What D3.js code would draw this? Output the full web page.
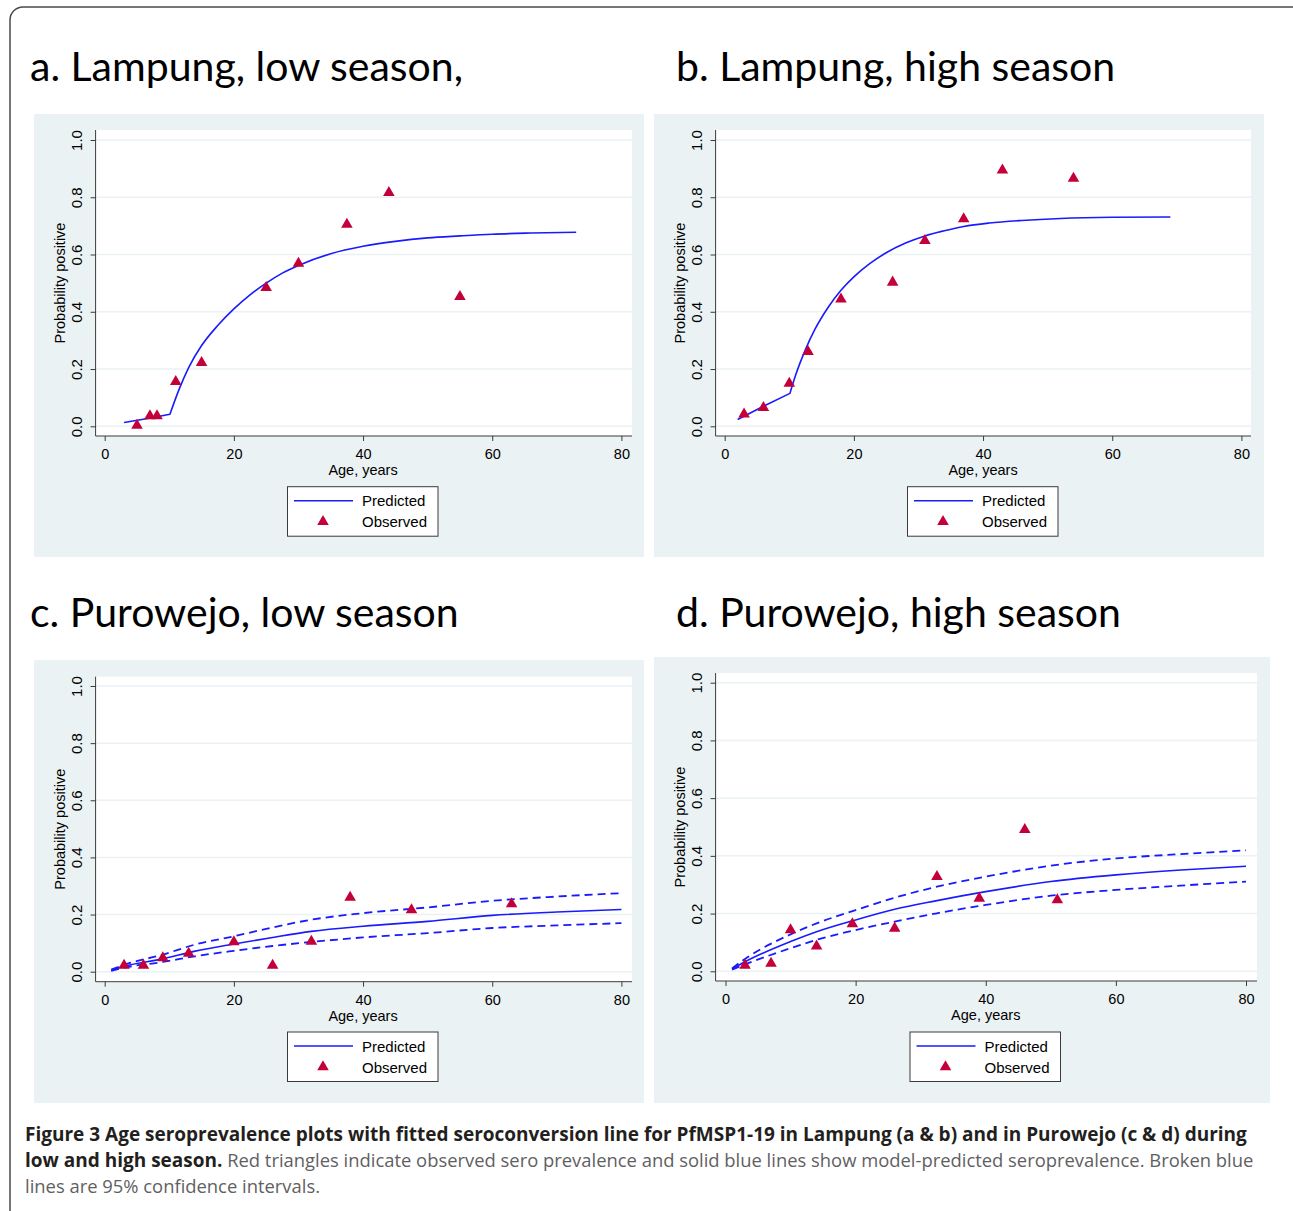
<!DOCTYPE html>
<html>
<head>
<meta charset="utf-8">
<script src="https://cdn.jsdelivr.net/npm/d3@7"></script>
<style>
  body { margin: 0; background: #fff; }
  svg { display: block; }
</style>
</head>
<body>
<div id="chart"></div>
<script>
// Panel titles
const titles = ["a. Lampung, low season,", "b. Lampung, high season", "c. Purowejo, low season", "d. Purowejo, high season"];

// Axis ticks
const xTicks = [0, 20, 40, 60, 80];
const yTicks = [0, 0.2, 0.4, 0.6, 0.8, 1.0];

// a. Lampung, low season
const obsAgeA = [5, 7, 8.1, 11, 15, 25, 30, 37.5, 44, 55];
const obsValA = [0.003, 0.036, 0.036, 0.156, 0.222, 0.484, 0.569, 0.705, 0.816, 0.453];
const predAgeA = [3, 6.9, 10.1, 11.5, 13, 15, 17.5, 20, 22.5, 25, 27.5, 30, 35, 40, 45, 50, 55, 60, 66, 73];
const predValA = [0.013, 0.028, 0.042, 0.128, 0.205, 0.282, 0.352, 0.41, 0.459, 0.5, 0.535, 0.562, 0.603, 0.629, 0.646, 0.658, 0.665, 0.671, 0.675, 0.678];

// b. Lampung, high season
const obsAgeB = [3, 6, 10, 12.9, 18, 26, 31, 37, 43, 54];
const obsValB = [0.042, 0.065, 0.15, 0.261, 0.444, 0.503, 0.648, 0.724, 0.895, 0.866];
const predAgeB = [2, 6, 10.1, 11, 12.5, 14, 16, 18, 20, 22.5, 25, 28, 31, 34, 37, 41, 46, 52, 60, 69];
const predValB = [0.024, 0.07, 0.115, 0.18, 0.268, 0.34, 0.415, 0.475, 0.522, 0.569, 0.606, 0.64, 0.665, 0.683, 0.698, 0.71, 0.719, 0.726, 0.73, 0.731];

// c. Purowejo, low season
const obsAgeC = [3, 6, 9, 13, 20, 26, 32, 38, 47.5, 63];
const obsValC = [0.022, 0.022, 0.048, 0.064, 0.104, 0.022, 0.106, 0.26, 0.216, 0.237];
const predAgeC = [1, 3, 9, 14, 20, 26, 32, 40, 50, 60, 70, 80];
const predValC = [0.005, 0.019, 0.045, 0.072, 0.097, 0.12, 0.141, 0.159, 0.176, 0.197, 0.209, 0.218];
const upperValC = [0.007, 0.024, 0.06, 0.095, 0.124, 0.155, 0.182, 0.205, 0.225, 0.248, 0.263, 0.275];
const lowerValC = [0.003, 0.014, 0.034, 0.054, 0.073, 0.09, 0.104, 0.12, 0.135, 0.153, 0.162, 0.17];

// d. Purowejo, high season
const obsAgeD = [3, 7, 10, 14, 19.5, 26, 32.5, 39, 46, 51];
const obsValD = [0.02, 0.027, 0.143, 0.087, 0.164, 0.149, 0.328, 0.253, 0.491, 0.247];
const predAgeD = [1, 3, 10, 14, 20, 26, 32.5, 40, 50, 60, 70, 80];
const predValD = [0.008, 0.033, 0.103, 0.137, 0.178, 0.215, 0.245, 0.276, 0.311, 0.334, 0.351, 0.364];
const upperValD = [0.01, 0.043, 0.128, 0.166, 0.212, 0.255, 0.293, 0.328, 0.366, 0.391, 0.406, 0.419];
const lowerValD = [0.006, 0.024, 0.08, 0.109, 0.143, 0.172, 0.201, 0.23, 0.262, 0.282, 0.297, 0.311];

// age where the fitted force of infection changes (kink in a & b)
const changeAge = 10.1;

const legendLabels = ["Predicted", "Observed"];
const yTitle = "Probability positive";
const xTitle = "Age, years";

const W = 1293, H = 1211;
const BG = "#eaf2f3";
const BLUE = "#1a1aff";
const RED = "#c4003a";
const AXIS = "#3a3a3a";
const SANS = "'Liberation Sans', Arial, sans-serif";

const svg = d3.select("#chart").append("svg")
    .attr("width", W)
    .attr("height", H);

// outer rounded frame
svg.append("rect")
    .attr("x", 10).attr("y", 7)
    .attr("width", 1300).attr("height", 1240)
    .attr("rx", 13)
    .attr("fill", "none")
    .attr("stroke", "#4a4a4a")
    .attr("stroke-width", 1.5);

const zip = (xs, ys) => xs.map((x, i) => ({ x: x, y: ys[i] }));

const panels = [
    { title: titles[0], tx: 30, ty: 81, bg: [34, 114, 644, 557], plot: [95.6, 130, 632, 436], xr: [104.7, 621.4], yr: [426.3, 140], legend: [287.5, 486.7],
      obs: zip(obsAgeA, obsValA), pred: zip(predAgeA, predValA), kink: true },
    { title: titles[1], tx: 676, ty: 81, bg: [654, 114, 1264, 557], plot: [715.6, 130, 1251, 436], xr: [724.7, 1241.4], yr: [426.3, 140], legend: [907.5, 486.7],
      obs: zip(obsAgeB, obsValB), pred: zip(predAgeB, predValB), kink: true },
    { title: titles[2], tx: 30, ty: 627, bg: [34, 660, 644, 1103], plot: [95.6, 676.7, 632, 981.7], xr: [104.7, 621.4], yr: [971.7, 686], legend: [287.5, 1032],
      obs: zip(obsAgeC, obsValC), pred: zip(predAgeC, predValC), upper: zip(predAgeC, upperValC), lower: zip(predAgeC, lowerValC) },
    { title: titles[3], tx: 676, ty: 627, bg: [654, 657, 1270, 1103], plot: [715.6, 673, 1257, 981], xr: [725.5, 1246], yr: [971.3, 682.7], legend: [910, 1032],
      obs: zip(obsAgeD, obsValD), pred: zip(predAgeD, predValD), upper: zip(predAgeD, upperValD), lower: zip(predAgeD, lowerValD) }
];

const tri = d3.symbol().type(d3.symbolTriangle).size(58);

panels.forEach(p => {
    const g = svg.append("g");

    g.append("text")
        .attr("x", p.tx).attr("y", p.ty)
        .attr("font-family", "Lato, 'Open Sans', sans-serif")
        .attr("font-size", 41)
        .attr("fill", "#000")
        .text(p.title);

    g.append("rect")
        .attr("x", p.bg[0]).attr("y", p.bg[1])
        .attr("width", p.bg[2] - p.bg[0]).attr("height", p.bg[3] - p.bg[1])
        .attr("fill", BG);

    g.append("rect")
        .attr("x", p.plot[0]).attr("y", p.plot[1])
        .attr("width", p.plot[2] - p.plot[0]).attr("height", p.plot[3] - p.plot[1])
        .attr("fill", "#fff");

    const x = d3.scaleLinear().domain([0, 80]).range(p.xr);
    const y = d3.scaleLinear().domain([0, 1]).range(p.yr);

    // gridlines
    g.append("g")
        .selectAll("line")
        .data(yTicks)
        .join("line")
        .attr("x1", p.plot[0]).attr("x2", p.plot[2])
        .attr("y1", d => y(d)).attr("y2", d => y(d))
        .attr("stroke", BG)
        .attr("stroke-width", 1.5);

    // y axis
    const yAxis = g.append("g")
        .attr("transform", `translate(${p.plot[0]},0)`)
        .call(d3.axisLeft(y).tickValues(yTicks).tickFormat(d3.format(".1f")).tickSize(5).tickPadding(4));
    yAxis.select(".domain")
        .attr("d", `M0,${p.plot[1]}V${p.plot[3]}`)
        .attr("stroke", AXIS);
    yAxis.selectAll(".tick line").attr("stroke", AXIS);
    yAxis.selectAll(".tick text")
        .attr("transform", "rotate(-90)")
        .attr("x", 0).attr("y", -14)
        .attr("dy", 0)
        .attr("text-anchor", "middle")
        .attr("font-family", SANS)
        .attr("font-size", 15)
        .attr("fill", "#000");

    // x axis
    const xAxis = g.append("g")
        .attr("transform", `translate(0,${p.plot[3]})`)
        .call(d3.axisBottom(x).tickValues(xTicks).tickSize(5).tickPadding(4));
    xAxis.select(".domain")
        .attr("d", `M${p.plot[0]},0H${p.plot[2]}`)
        .attr("stroke", AXIS);
    xAxis.selectAll(".tick line").attr("stroke", AXIS);
    xAxis.selectAll(".tick text")
        .attr("y", 23).attr("dy", 0)
        .attr("font-family", SANS)
        .attr("font-size", 14.5)
        .attr("fill", "#000");

    g.append("text")
        .attr("transform", `translate(${p.plot[0] - 31},${(p.plot[1] + p.plot[3]) / 2}) rotate(-90)`)
        .attr("text-anchor", "middle")
        .attr("font-family", SANS)
        .attr("font-size", 14.5)
        .text(yTitle);

    g.append("text")
        .attr("x", x(40)).attr("y", p.plot[3] + 39)
        .attr("text-anchor", "middle")
        .attr("font-family", SANS)
        .attr("font-size", 14.5)
        .text(xTitle);

    const smooth = d3.line().x(d => x(d.x)).y(d => y(d.y)).curve(d3.curveMonotoneX);
    const straight = d3.line().x(d => x(d.x)).y(d => y(d.y));

    if (p.upper) {
        [p.upper, p.lower].forEach(ci => {
            g.append("path")
                .datum(ci)
                .attr("fill", "none")
                .attr("stroke", BLUE)
                .attr("stroke-width", 1.8)
                .attr("stroke-dasharray", "8,5")
                .attr("d", smooth);
        });
    }

    let predD;
    if (p.kink) {
        const early = p.pred.filter(d => d.x <= changeAge);
        const late = p.pred.filter(d => d.x >= changeAge);
        predD = straight(early) + smooth(late).replace(/^M/, "L");
    } else {
        predD = smooth(p.pred);
    }
    g.append("path")
        .attr("fill", "none")
        .attr("stroke", BLUE)
        .attr("stroke-width", 1.6)
        .attr("stroke-linejoin", "round")
        .attr("d", predD);

    g.append("g")
        .selectAll("path")
        .data(p.obs)
        .join("path")
        .attr("transform", d => `translate(${x(d.x)},${y(d.y)})`)
        .attr("d", tri)
        .attr("fill", RED);

    // legend
    const lg = g.append("g").attr("transform", `translate(${p.legend[0]},${p.legend[1]})`);
    lg.append("rect")
        .attr("width", 150.5).attr("height", 49.5)
        .attr("fill", "#fff")
        .attr("stroke", AXIS)
        .attr("stroke-width", 1);
    lg.append("line")
        .attr("x1", 6.5).attr("x2", 65.5)
        .attr("y1", 14).attr("y2", 14)
        .attr("stroke", BLUE)
        .attr("stroke-width", 1.6);
    lg.append("path")
        .attr("transform", "translate(35.5,35)")
        .attr("d", tri)
        .attr("fill", RED);
    lg.selectAll("text.lbl")
        .data(legendLabels)
        .join("text")
        .attr("class", "lbl")
        .attr("x", 74.5)
        .attr("y", (d, i) => 19.5 + i * 21)
        .attr("font-family", SANS)
        .attr("font-size", 15)
        .text(d => d);
});

// caption
const cap = svg.append("text")
    .attr("font-family", "'Open Sans', sans-serif")
    .attr("font-size", 19);
const l1 = cap.append("tspan").attr("x", 25).attr("y", 1141);
l1.append("tspan").attr("font-weight", "bold").attr("fill", "#231f20")
    .text("Figure 3 Age seroprevalence plots with fitted seroconversion line for PfMSP1-19 in Lampung (a & b) and in Purowejo (c & d) during");
const l2 = cap.append("tspan").attr("x", 25).attr("y", 1167);
l2.append("tspan").attr("font-weight", "bold").attr("fill", "#231f20").text("low and high season.");
l2.append("tspan").attr("fill", "#5f6062").attr("font-size", 18.4).text(" Red triangles indicate observed sero prevalence and solid blue lines show model-predicted seroprevalence. Broken blue");
cap.append("tspan").attr("x", 25).attr("y", 1193).attr("fill", "#5f6062").attr("font-size", 18.4).text("lines are 95% confidence intervals.");
</script>
</body>
</html>
